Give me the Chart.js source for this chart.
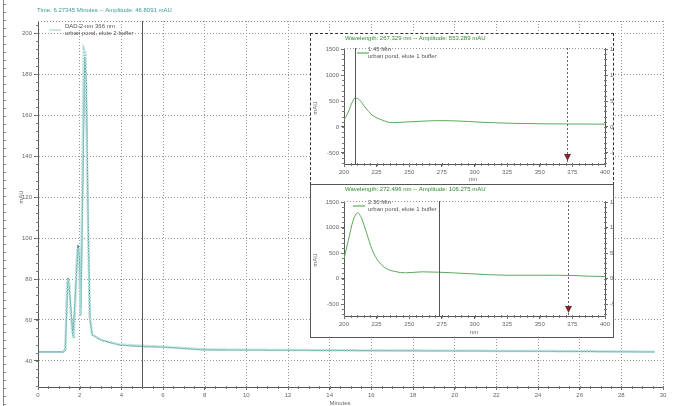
<!DOCTYPE html>
<html>
<head>
<meta charset="utf-8">
<script src="https://cdn.jsdelivr.net/npm/chart.js@4.4.0/dist/chart.umd.min.js"></script>
<style>
body { margin: 0; background: #fff; }
#wrap { position: relative; width: 689px; height: 406px; overflow: hidden; }
#mainBox { position: absolute; left: 0; top: 0; width: 689px; height: 406px; }
.box { position: absolute; background: #fff; overflow: hidden; box-sizing: border-box; }
#box1 { left: 310px; top: 33px; width: 304px; height: 152px; border: 1px dashed #333; }
#box2 { left: 310px; top: 184px; width: 304px; height: 154px; border: 1px solid #555; }
.inner { position: absolute; left: 0; top: 0; width: 330px; }
#in1 { height: 150px; }
#in2 { height: 152px; }
</style>
</head>
<body>
<div id="wrap">
  <div id="mainBox"><canvas id="mainChart"></canvas></div>
  <div class="box" id="box1"><div class="inner" id="in1"><canvas id="spec1"></canvas></div></div>
  <div class="box" id="box2"><div class="inner" id="in2"><canvas id="spec2"></canvas></div></div>
</div>
<script>
// ////// chromatogram data //////
const timeMin = [0, 1.25, 1.3, 1.44, 1.5, 1.68, 1.92, 1.98, 2.06, 2.16, 2.24, 2.32, 2.42, 2.5, 2.6, 3.0, 3.9, 5.0, 6.0, 8.0, 14.5, 19.8, 25.0, 29.6];
const dadSignal = [44.4, 44.4, 44.9, 80.5, 76, 52.2, 96.6, 92, 65.9, 130, 188.3, 176, 100, 60.0, 52.7, 50.2, 47.8, 47.0, 46.8, 45.4, 45.1, 44.9, 44.7, 44.4];
const overlayTime = [1.2, 1.32, 1.4, 1.48, 1.62, 1.72, 1.88, 1.96, 2.04, 2.12, 2.2, 2.28, 2.38, 2.48, 2.6, 3.0, 3.9, 6.0, 8.0, 14.5, 19.8, 25.0, 29.6];
const overlaySignal = [44.4, 46, 79, 80, 56, 51, 94, 95, 62, 120, 192, 190, 120, 62, 53, 50.4, 48, 46.9, 45.6, 45.2, 45.0, 44.8, 44.5];
const timeTicks = [0, 2, 4, 6, 8, 10, 12, 14, 16, 18, 20, 22, 24, 26, 28, 30];
const mauTicks = [40, 60, 80, 100, 120, 140, 160, 180, 200];

// ////// spectra data //////
const nmA = [200, 203, 206, 208.5, 212, 216, 221.6, 229, 237, 247, 260, 272.5, 288, 306, 330, 350, 371, 400];
const specA = [135, 270, 460, 560, 520, 385, 230, 135, 83, 96, 112, 122, 115, 90, 70, 62, 58, 55];
const nmB = [200, 203.3, 207, 210.5, 213.6, 217.5, 221.3, 225.1, 231.5, 239.2, 247, 259.8, 272.6, 298, 324, 350, 376, 388, 400];
const specB = [386, 745, 1137, 1288, 1170, 876, 582, 386, 209, 137, 111, 131, 124, 92, 65, 65, 59, 46, 39];
const nmTicks = [200, 225, 250, 275, 300, 325, 350, 375, 400];
const specTicks = [-500, 0, 500, 1000, 1500];

Chart.defaults.font.family = "'Liberation Sans', Arial, sans-serif";
Chart.defaults.font.size = 6;
Chart.defaults.color = '#666';

function toXY(xs, ys) {
    return xs.map((v, i) => ({x: v, y: ys[i]}));
}
const plain = v => String(v);

////// decorations: titles, legend, cursors, minor ticks //////
const deco = {
    id: 'deco',
    afterDatasetsDraw(chart, args, o) {
        const ctx = chart.ctx, a = chart.chartArea;
        const xs = chart.scales.x, ys = chart.scales.y;
        ctx.save();
        ctx.font = "6px 'Liberation Sans', Arial, sans-serif";

        // top border
        ctx.strokeStyle = o.topColor || '#888';
        ctx.lineWidth = 1;
        ctx.setLineDash(o.topDash || [1, 2]);
        ctx.beginPath(); ctx.moveTo(a.left, a.top + 0.5); ctx.lineTo(a.right, a.top + 0.5); ctx.stroke();
        ctx.setLineDash([]);

        // minor ticks
        ctx.strokeStyle = '#777';
        for (let v = Math.ceil(ys.min / o.yMinor) * o.yMinor; v <= ys.max; v += o.yMinor) {
            const py = Math.round(ys.getPixelForValue(v)) + 0.5;
            ctx.beginPath(); ctx.moveTo(a.left - 2, py); ctx.lineTo(a.left + 1, py); ctx.stroke();
            if (o.rightTicks) {
                ctx.beginPath(); ctx.moveTo(a.right - 1, py); ctx.lineTo(a.right + 2, py); ctx.stroke();
            }
        }
        for (let v = xs.min; v <= xs.max; v += o.xMinor) {
            const px = Math.round(xs.getPixelForValue(v)) + 0.5;
            ctx.beginPath(); ctx.moveTo(px, a.bottom - 1); ctx.lineTo(px, a.bottom + 2); ctx.stroke();
        }

        // cursor lines
        (o.solid || []).forEach(v => {
            const px = Math.round(xs.getPixelForValue(v)) + 0.5;
            ctx.strokeStyle = '#555';
            ctx.beginPath(); ctx.moveTo(px, a.top); ctx.lineTo(px, a.bottom); ctx.stroke();
        });
        (o.dashed || []).forEach(v => {
            const px = Math.round(xs.getPixelForValue(v)) + 0.5;
            ctx.strokeStyle = '#666';
            ctx.setLineDash([2, 2]);
            ctx.beginPath(); ctx.moveTo(px, a.top); ctx.lineTo(px, a.bottom); ctx.stroke();
            ctx.setLineDash([]);
            ctx.fillStyle = '#7a2a2a';
            ctx.beginPath();
            ctx.moveTo(px - 3.5, a.bottom - 10); ctx.lineTo(px + 3.5, a.bottom - 10); ctx.lineTo(px, a.bottom - 3);
            ctx.closePath(); ctx.fill();
        });

        // title
        ctx.fillStyle = o.titleColor;
        ctx.textBaseline = 'middle';
        ctx.textAlign = 'left';
        ctx.fillText(o.title, o.titleX, o.titleY);

        // legend
        ctx.strokeStyle = o.legendColor;
        ctx.lineWidth = 1;
        ctx.beginPath(); ctx.moveTo(o.legX, o.legY); ctx.lineTo(o.legX + 12, o.legY); ctx.stroke();
        ctx.fillStyle = '#555';
        ctx.fillText(o.legend[0], o.legTextX, o.legY - 4);
        ctx.fillText(o.legend[1], o.legTextX, o.legY + 3);

        // axis titles
        ctx.fillStyle = '#666';
        ctx.textAlign = 'center';
        ctx.fillText(o.xTitle, o.xTitlePos[0], o.xTitlePos[1]);
        ctx.translate(o.yTitlePos[0], o.yTitlePos[1]);
        ctx.rotate(-Math.PI / 2);
        ctx.fillText(o.yTitle, 0, 0);
        ctx.restore();

        // left ruler on main page
        if (o.ruler) {
            ctx.save();
            ctx.strokeStyle = '#888';
            ctx.lineWidth = 1;
            ctx.beginPath(); ctx.moveTo(3.5, 0); ctx.lineTo(3.5, chart.height); ctx.stroke();
            for (let py = 4; py < chart.height; py += 8) {
                ctx.beginPath(); ctx.moveTo(3.5, py + 0.5); ctx.lineTo(6, py + 0.5); ctx.stroke();
            }
            ctx.restore();
        }
    }
};

////// main chromatogram //////
new Chart(document.getElementById('mainChart'), {
    type: 'line',
    data: {
        datasets: [
            {
                label: 'overlay',
                data: toXY(overlayTime, overlaySignal),
                borderColor: '#a6d6d2',
                borderWidth: 2.5,
                borderDash: [2, 1],
                pointRadius: 0,
                tension: 0
            },
            {
                label: 'DAD-2-nm 366 nm',
                data: toXY(timeMin, dadSignal),
                borderColor: '#2f8a86',
                borderWidth: 1,
                pointRadius: 0,
                tension: 0
            }
        ]
    },
    options: {
        responsive: true,
        maintainAspectRatio: false,
        animation: false,
        layout: {padding: {left: 0, top: 21, right: 26, bottom: 0}},
        plugins: {
            legend: {display: false},
            tooltip: {enabled: false},
            deco: {
                title: 'Time: 6.27345 Minutes -- Amplitude: 46.8091 mAU',
                titleColor: '#3a9a96', titleX: 37, titleY: 10,
                legend: ['DAD-2-nm 366 nm', 'urban pond, elute 2 buffer'],
                legendColor: '#9ec9c6', legX: 49, legY: 30, legTextX: 65,
                solid: [4.98],
                yMinor: 4, xMinor: 0.5,
                xTitle: 'Minutes', xTitlePos: [340, 403],
                yTitle: 'mAU', yTitlePos: [21, 197],
                ruler: true
            }
        },
        scales: {
            x: {
                type: 'linear', min: 0, max: 30,
                afterBuildTicks: s => { s.ticks = timeTicks.map(v => ({value: v})); },
                afterFit: s => { s.height = 19; },
                grid: {color: '#999', tickLength: 3, drawTicks: true, tickColor: '#666'},
                border: {display: true, color: '#555', dash: [1, 2]},
                ticks: {padding: 2, maxRotation: 0, autoSkip: false, color: '#666', callback: plain}
            },
            y: {
                type: 'linear', min: 27.3, max: 205.9,
                afterBuildTicks: s => { s.ticks = mauTicks.map(v => ({value: v})); },
                afterFit: s => { s.width = 38; },
                grid: {color: '#999', tickLength: 4, tickColor: '#666'},
                border: {display: true, color: '#555', dash: [1, 2]},
                ticks: {padding: 2, color: '#666', callback: plain}
            }
        }
    },
    plugins: [deco]
});

////// spectrum insets //////
function specChart(id, xs, ys, yMin, topPad, xHeight, opts) {
    const yCommon = {
        type: 'linear', min: yMin, max: 1520,
        afterBuildTicks: s => { s.ticks = specTicks.map(v => ({value: v})); },
        border: {display: true, color: '#555'},
        ticks: {padding: 2, color: '#666', callback: plain}
    };
    return new Chart(document.getElementById(id), {
        type: 'line',
        data: {
            datasets: [{
                label: opts.legend[0],
                data: toXY(xs, ys),
                borderColor: '#58a858',
                borderWidth: 1,
                pointRadius: 0,
                cubicInterpolationMode: 'monotone'
            }]
        },
        options: {
            responsive: true,
            maintainAspectRatio: false,
            animation: false,
            layout: {padding: {left: 0, top: topPad, right: 0, bottom: 0}},
            plugins: {
                legend: {display: false},
                tooltip: {enabled: false},
                deco: Object.assign({
                    titleColor: '#2e8b2e', titleX: 34, titleY: 4,
                    legendColor: '#3c9a3c', legX: 46,
                    yMinor: 100, xMinor: 5, rightTicks: true,
                    topColor: '#999', topDash: [1, 2],
                    xTitle: 'nm', yTitle: 'mAU'
                }, opts)
            },
            scales: {
                x: {
                    type: 'linear', min: 200, max: 400,
                    afterBuildTicks: s => { s.ticks = nmTicks.map(v => ({value: v})); },
                    afterFit: s => { s.height = xHeight; },
                    grid: {display: true, drawOnChartArea: false, tickLength: 3, tickColor: '#666'},
                    border: {display: true, color: '#555'},
                    ticks: {padding: 2, maxRotation: 0, autoSkip: false, color: '#666', callback: plain}
                },
                y: Object.assign({}, yCommon, {
                    position: 'left',
                    afterFit: s => { s.width = 33; },
                    grid: {display: true, drawOnChartArea: false, tickLength: 3, tickColor: '#666'}
                }),
                y2: Object.assign({}, yCommon, {
                    position: 'right',
                    afterFit: s => { s.width = 36; },
                    grid: {display: true, drawOnChartArea: false, tickLength: 3, tickColor: '#666'}
                })
            }
        },
        plugins: [deco]
    });
}

specChart('spec1', nmA, specA, -712, 14, 20, {
    title: 'Wavelength: 267.329 nm -- Amplitude: 553.289 mAU',
    legend: ['1.45 Min', 'urban pond, elute 1 buffer'],
    legY: 19, legTextX: 57,
    solid: [208.5],
    dashed: [371],
    xTitlePos: [162, 145],
    yTitlePos: [4, 74]
});

specChart('spec2', nmB, specB, -735, 16, 21, {
    title: 'Wavelength: 272.496 nm -- Amplitude: 106.275 mAU',
    legend: ['2.30 Min', 'urban pond, elute 1 buffer'],
    legX: 42, legY: 21, legTextX: 57,
    solid: [273],
    dashed: [372],
    xTitlePos: [163, 147],
    yTitlePos: [4, 75]
});
</script>
</body>
</html>
